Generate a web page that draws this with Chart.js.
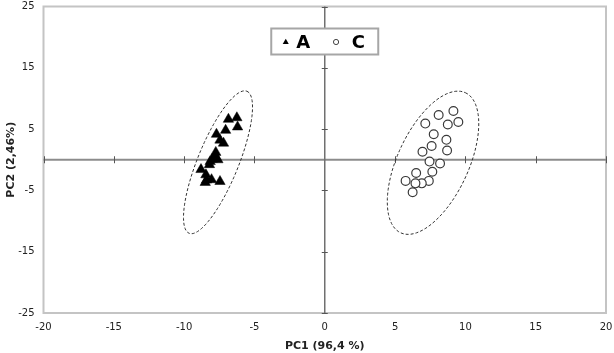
<!DOCTYPE html>
<html>
<head>
<meta charset="utf-8">
<script src="https://cdn.jsdelivr.net/npm/chart.js@4/dist/chart.umd.min.js"></script>
<style>
  html, body { margin: 0; padding: 0; background: #fff; }
  #wrap { position: relative; width: 614px; height: 353px; }
</style>
</head>
<body>
<div id="wrap"><canvas id="c" width="614" height="353"></canvas></div>
<script>
// ---- data ----
const seriesNames = ['A', 'C'];
const aX = [-6.85, -6.25, -6.2, -7.05, -7.7, -7.45, -7.2, -7.75, -7.8, -8.0, -7.6, -8.15, -8.2, -8.8, -8.45, -8.4, -8.05, -7.45, -8.5];
const aY = [6.6, 6.85, 5.35, 4.8, 4.15, 3.2, 2.7, 1.2, 0.65, 0.1, 0.0, -0.3, -0.8, -1.6, -2.45, -3.3, -3.25, -3.55, -3.7];
const cX = [9.15, 8.1, 9.5, 7.15, 8.75, 7.75, 8.65, 7.6, 6.95, 8.7, 7.45, 8.2, 7.65, 6.5, 5.75, 7.4, 6.9, 6.45, 6.25];
const cY = [7.95, 7.3, 6.15, 5.9, 5.75, 4.15, 3.25, 2.25, 1.3, 1.5, -0.3, -0.6, -1.95, -2.15, -3.45, -3.45, -3.85, -3.85, -5.3];
const xTickValues = [-20, -15, -10, -5, 0, 5, 10, 15, 20];
const yTickValues = [-25, -15, -5, 5, 15, 25];
const xTitle = 'PC1 (96,4 %)';
const yTitle = 'PC2 (2,46%)';
// confidence ellipses: centre, major half-axis vector, minor half-axis vector (data units)
const ellipseA = { cx: -7.59, cy: -0.41, ux: 2.05, uy: 11.59, vx: 1.35, vy: -1.24 };
const ellipseC = { cx: 7.70, cy: -0.49, ux: 2.30, uy: 11.43, vx: 2.30, vy: -2.42 };

function toPoints(xs, ys) { return xs.map((x, i) => ({ x: x, y: ys[i] })); }
function ellipsePoints(e) {
  const pts = [];
  for (let d = 0; d <= 360; d += 4) {
    const t = d * Math.PI / 180;
    pts.push({ x: e.cx + e.ux * Math.cos(t) + e.vx * Math.sin(t),
               y: e.cy + e.uy * Math.cos(t) + e.vy * Math.sin(t) });
  }
  return pts;
}
function noPad(s) { s.paddingTop = 0; s.paddingBottom = 0; s.paddingLeft = 0; s.paddingRight = 0; }

const frameAndAxes = {
  id: 'frameAndAxes',
  beforeDatasetsDraw(chart) {
    const { ctx, chartArea: a, scales } = chart;
    const x0 = scales.x.getPixelForValue(0);
    const y0 = scales.y.getPixelForValue(0);
    ctx.save();
    // frame
    ctx.strokeStyle = '#c4c4c4';
    ctx.lineWidth = 2;
    ctx.strokeRect(a.left, a.top, a.right - a.left, a.bottom - a.top);
    // zero lines
    ctx.strokeStyle = '#8c8c8c';
    ctx.lineWidth = 2;
    ctx.beginPath(); ctx.moveTo(a.left, y0); ctx.lineTo(a.right, y0); ctx.stroke();
    ctx.strokeStyle = '#707070';
    ctx.lineWidth = 1.5;
    ctx.beginPath(); ctx.moveTo(x0, a.top); ctx.lineTo(x0, a.bottom); ctx.stroke();
    // tick marks on zero lines
    ctx.strokeStyle = '#555';
    ctx.lineWidth = 1;
    ctx.beginPath();
    xTickValues.forEach(v => {
      if (v === 0) return;
      const px = Math.round(scales.x.getPixelForValue(v)) + 0.5;
      ctx.moveTo(px, y0 - 3.5); ctx.lineTo(px, y0 + 3.5);
    });
    yTickValues.forEach(v => {
      const py = Math.round(scales.y.getPixelForValue(v)) + 0.5;
      ctx.moveTo(x0 - 3, py); ctx.lineTo(x0 + 3, py);
    });
    ctx.stroke();
    ctx.restore();
  },
  afterDraw(chart) {
    const { ctx, chartArea: a } = chart;
    const cx = (a.left + a.right) / 2;
    const top = a.top + 22, h = 26, w = 107;
    const cy = top + h / 2 + 0.5;
    ctx.save();
    ctx.fillStyle = '#fff';
    ctx.fillRect(cx - w / 2, top, w, h);
    ctx.strokeStyle = '#a6a6a6';
    ctx.lineWidth = 2;
    ctx.strokeRect(cx - w / 2, top, w, h);
    // triangle marker
    const tx = cx - 39, r = 3.2;
    ctx.fillStyle = '#000';
    ctx.beginPath();
    ctx.moveTo(tx, cy - r);
    ctx.lineTo(tx + r * 0.95, cy + r * 0.6);
    ctx.lineTo(tx - r * 0.95, cy + r * 0.6);
    ctx.closePath(); ctx.fill();
    // circle marker
    ctx.strokeStyle = '#444';
    ctx.lineWidth = 1;
    ctx.beginPath(); ctx.arc(cx + 11.3, cy, 2.6, 0, Math.PI * 2); ctx.stroke();
    // labels
    ctx.fillStyle = '#000';
    ctx.font = 'bold 18px "DejaVu Sans"';
    ctx.textBaseline = 'middle';
    ctx.textAlign = 'left';
    ctx.fillText(seriesNames[0], cx - 28.5, cy + 1);
    ctx.fillText(seriesNames[1], cx + 27, cy + 1);
    ctx.restore();
  }
};

const tickFont = { family: '"DejaVu Sans", Verdana, sans-serif', size: 10 };
const titleFont = { family: '"DejaVu Sans", Verdana, sans-serif', size: 11, weight: 'bold' };

new Chart(document.getElementById('c'), {
  type: 'scatter',
  data: {
    datasets: [
      { label: seriesNames[0], data: toPoints(aX, aY), pointStyle: 'triangle',
        pointRadius: 6, pointBackgroundColor: '#000', pointBorderColor: '#000', pointBorderWidth: 0.5, order: 1 },
      { label: seriesNames[1], data: toPoints(cX, cY), pointStyle: 'circle',
        pointRadius: 4.4, pointBackgroundColor: '#fff', pointBorderColor: '#3a3a3a', pointBorderWidth: 1.2, order: 1 },
      { label: 'ellipseA', data: ellipsePoints(ellipseA), showLine: true, pointRadius: 0,
        borderColor: '#333', borderWidth: 1, borderDash: [3, 2], fill: false, tension: 0, order: 5 },
      { label: 'ellipseC', data: ellipsePoints(ellipseC), showLine: true, pointRadius: 0,
        borderColor: '#333', borderWidth: 1, borderDash: [3, 2], fill: false, tension: 0, order: 5 }
    ]
  },
  options: {
    responsive: false,
    animation: false,
    events: [],
    layout: { padding: { top: 5, right: 8, left: 0, bottom: 0 } },
    plugins: { legend: { display: false }, tooltip: { enabled: false } },
    scales: {
      x: {
        type: 'linear', min: -20, max: 20,
        afterBuildTicks: s => { s.ticks = xTickValues.map(v => ({ value: v })); },
        afterFit: s => { s.height = 40; noPad(s); },
        grid: { display: false, drawTicks: false },
        border: { display: false },
        ticks: { font: tickFont, color: '#222', padding: 8, maxRotation: 0, autoSkip: false },
        title: { display: true, text: xTitle, font: titleFont, color: '#222', padding: { top: 0, bottom: 0 } }
      },
      y: {
        type: 'linear', min: -25, max: 25,
        afterBuildTicks: s => { s.ticks = yTickValues.map(v => ({ value: v })); },
        afterFit: s => { s.width = 43.5; noPad(s); },
        grid: { display: false, drawTicks: false },
        border: { display: false },
        ticks: { font: tickFont, color: '#222', padding: 9, autoSkip: false },
        title: { display: true, text: yTitle, font: titleFont, color: '#222', padding: { top: 5, bottom: 0 } }
      }
    }
  },
  plugins: [frameAndAxes]
});
</script>
</body>
</html>
